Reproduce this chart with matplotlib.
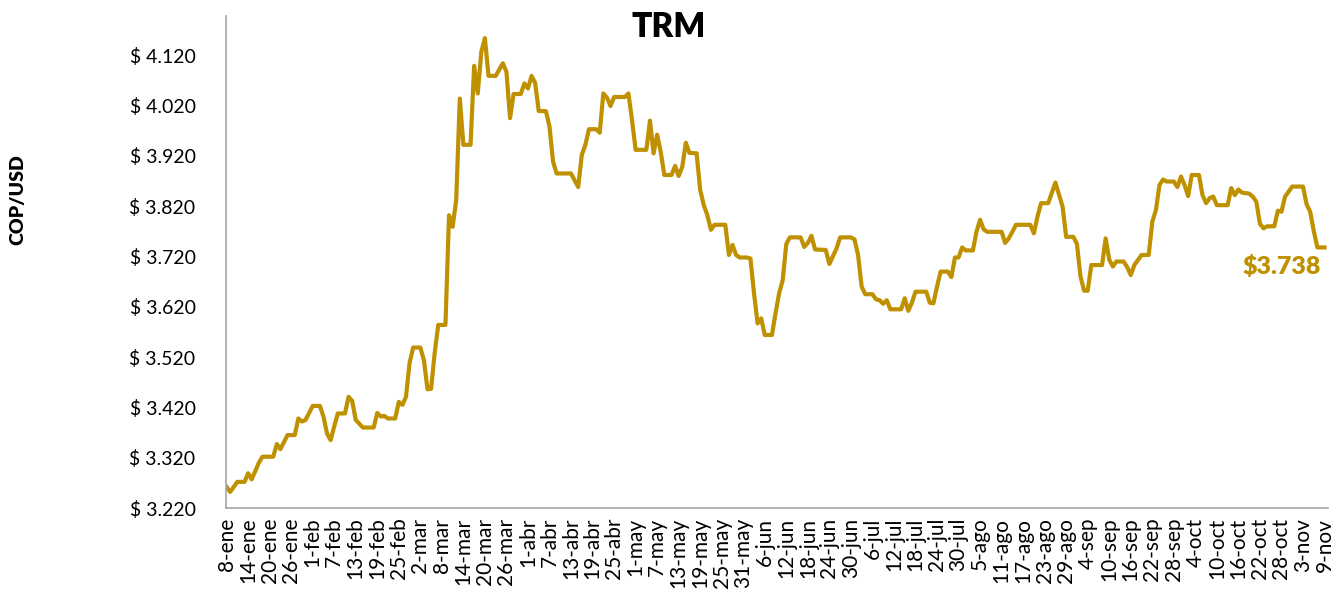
import matplotlib
matplotlib.use("Agg")
import matplotlib.pyplot as plt
import pandas as pd

plt.rcParams["font.family"] = ["Lato", "DejaVu Sans"]

# TRM readings (days after 8-ene-2020, COP per USD)
day_offset = [
    0, 1, 3, 5, 6, 7, 9, 10, 13, 14, 15, 17, 19, 20, 21, 22, 24, 26, 27, 28,
    29, 30, 31, 33, 34, 35, 36, 38, 41, 42, 43, 44, 45, 47, 48, 49, 50, 51, 52, 54,
    55, 56, 57, 58, 59, 61, 62, 63, 64, 65, 66, 68, 69, 70, 71, 72, 73, 75, 77, 78,
    79, 80, 82, 83, 84, 85, 86, 87, 89, 90, 91, 92, 96, 98, 99, 100, 101, 103, 104, 105,
    106, 107, 108, 111, 112, 113, 114, 117, 118, 119, 120, 121, 122, 124, 125, 126, 127, 128, 129, 131,
    132, 133, 134, 135, 136, 139, 140, 141, 142, 143, 145, 146, 147, 148, 149, 150, 152, 153, 154, 155,
    156, 157, 160, 161, 162, 163, 164, 167, 168, 170, 171, 174, 175, 176, 177, 178, 180, 181, 182, 183,
    184, 185, 188, 189, 190, 191, 192, 195, 196, 197, 198, 199, 201, 202, 203, 204, 205, 206, 208, 209,
    210, 211, 212, 216, 217, 218, 219, 220, 224, 225, 226, 227, 229, 231, 233, 234, 236, 237, 238, 239,
    240, 241, 244, 245, 246, 247, 248, 250, 251, 252, 253, 255, 257, 258, 259, 260, 261, 262, 264, 265,
    266, 267, 268, 269, 271, 272, 273, 274, 275, 276, 279, 280, 281, 282, 283, 285, 286, 287, 288, 289,
    290, 292, 293, 294, 295, 296, 297, 300, 301, 302, 303, 304, 306,
]
trm = [
    3262, 3252, 3272, 3272, 3289, 3277, 3310, 3322, 3322, 3347, 3337, 3365, 3365, 3398, 3392, 3395, 3423, 3423, 3402, 3368,
    3355, 3382, 3408, 3408, 3441, 3433, 3395, 3380, 3380, 3409, 3402, 3403, 3398, 3398, 3431, 3425, 3441, 3508, 3539, 3539,
    3514, 3456, 3457, 3528, 3584, 3584, 3802, 3779, 3832, 4034, 3942, 3942, 4099, 4044, 4127, 4154, 4079, 4079, 4104, 4087,
    3995, 4043, 4043, 4064, 4054, 4079, 4065, 4009, 4009, 3978, 3908, 3885, 3885, 3858, 3922, 3942, 3973, 3973, 3966, 4044,
    4036, 4019, 4037, 4037, 4044, 3991, 3932, 3932, 3990, 3925, 3962, 3928, 3882, 3882, 3900, 3880, 3898, 3946, 3926, 3925,
    3852, 3822, 3802, 3773, 3783, 3783, 3723, 3743, 3723, 3718, 3718, 3716, 3647, 3587, 3597, 3564, 3564, 3607, 3647, 3673,
    3745, 3758, 3758, 3739, 3747, 3761, 3734, 3733, 3705, 3736, 3758, 3758, 3754, 3723, 3660, 3645, 3645, 3635, 3633, 3626,
    3633, 3615, 3615, 3637, 3612, 3628, 3650, 3650, 3628, 3627, 3660, 3690, 3690, 3679, 3718, 3718, 3738, 3732, 3732, 3769,
    3793, 3774, 3769, 3769, 3747, 3756, 3769, 3783, 3783, 3766, 3799, 3826, 3826, 3867, 3819, 3759, 3759, 3745, 3680, 3652,
    3652, 3703, 3703, 3756, 3714, 3700, 3710, 3710, 3699, 3683, 3703, 3723, 3723, 3789, 3812, 3862, 3873, 3869, 3869, 3858,
    3879, 3862, 3840, 3882, 3882, 3842, 3826, 3836, 3839, 3822, 3822, 3856, 3842, 3853, 3847, 3845, 3839, 3829, 3785, 3776,
    3780, 3780, 3811, 3809, 3839, 3849, 3859, 3859, 3824, 3809, 3771, 3738, 3738,
]

tick_labels = [
    "8-ene", "14-ene", "20-ene", "26-ene", "1-feb", "7-feb", "13-feb", "19-feb", "25-feb",
    "2-mar", "8-mar", "14-mar", "20-mar", "26-mar", "1-abr", "7-abr", "13-abr", "19-abr",
    "25-abr", "1-may", "7-may", "13-may", "19-may", "25-may", "31-may", "6-jun", "12-jun",
    "18-jun", "24-jun", "30-jun", "6-jul", "12-jul", "18-jul", "24-jul", "30-jul", "5-ago",
    "11-ago", "17-ago", "23-ago", "29-ago", "4-sep", "10-sep", "16-sep", "22-sep", "28-sep",
    "4-oct", "10-oct", "16-oct", "22-oct", "28-oct", "3-nov", "9-nov",
]
y_ticks = [3220, 3320, 3420, 3520, 3620, 3720, 3820, 3920, 4020, 4120]

gold = "#BF9000"
start = pd.Timestamp("2020-01-08")
dates = start + pd.to_timedelta(day_offset, unit="D")
tick_dates = pd.date_range(start, periods=len(tick_labels), freq="6D")

fig = plt.figure(figsize=(13.38, 5.91), dpi=100)
ax = fig.add_axes([0.169, 0.1404, 0.8236, 0.8325])
ax.plot(dates, trm, color=gold, linewidth=3, solid_joinstyle="round")

ax.set_xlim(dates[0] - pd.Timedelta(hours=3), dates[-1] + pd.Timedelta(days=1))
ax.set_ylim(3220, 4198)
ax.set_yticks(y_ticks)
ax.set_yticklabels(["$ " + f"{v:,}".replace(",", ".") for v in y_ticks], fontsize=14)
ax.set_xticks(tick_dates)
ax.set_xticklabels(tick_labels, rotation=90, fontsize=15)
ax.tick_params(length=0, pad=7)
ax.tick_params(axis="y", pad=22)

for side in ["top", "right"]:
    ax.spines[side].set_visible(False)
for side in ["left", "bottom"]:
    ax.spines[side].set_color("#A6A6A6")
    ax.spines[side].set_linewidth(1.2)

last = trm[-1]
ax.annotate("$" + f"{last:,}".replace(",", "."), xy=(dates[-1], last),
            xytext=(-3, -14), textcoords="offset points", ha="right", va="center",
            fontsize=18, fontweight="heavy", color=gold)

fig.text(0.5, 0.955, "TRM", ha="center", va="center", fontsize=24, fontweight="heavy")
fig.text(0.0135, 0.663, "COP/USD", ha="center", va="center", rotation=90,
         fontsize=14, fontweight="heavy")

fig.savefig("out.png", dpi=100)
